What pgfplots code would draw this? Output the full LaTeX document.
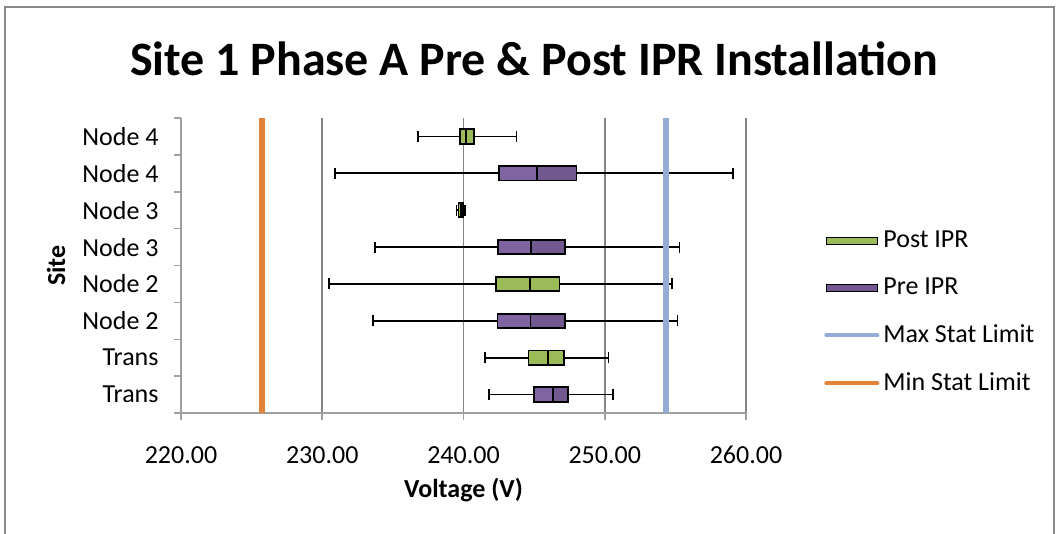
\documentclass[border=0pt]{standalone}
\usepackage{fontspec}
\setmainfont{Carlito}
\usepackage{pgfplots}
\pgfplotsset{compat=1.18}
\usepgfplotslibrary{statistics}
\definecolor{postgreen}{RGB}{155,187,89}
\definecolor{prelight}{RGB}{128,100,162}
\definecolor{predark}{RGB}{113,88,143}
\definecolor{maxblue}{RGB}{146,172,214}
\definecolor{minorange}{RGB}{226,131,58}
\definecolor{gridgray}{RGB}{134,134,134}
\definecolor{axisgray}{RGB}{160,160,160}
\definecolor{framegray}{RGB}{136,136,136}
\begin{document}
\begin{tikzpicture}
\useasboundingbox (-90.5pt,-60.5pt) rectangle (438.5pt,206.5pt);
\draw[framegray, line width=0.75pt] (-88pt,-70pt) -- (-88pt,203pt) -- (436.5pt,203pt) -- (436.5pt,-70pt);
\begin{axis}[
  at={(0pt,0pt)}, anchor=south west,
  scale only axis, width=282.5pt, height=147.5pt,
  xmin=220, xmax=260, ymin=0.5, ymax=8.5,
  axis x line*=bottom, axis y line*=left,
  axis line style={axisgray, line width=0.75pt, -},
  xtick={220,230,240,250,260},
  xticklabel style={/pgf/number format/fixed, /pgf/number format/fixed zerofill, /pgf/number format/precision=2, /pgf/number format/assume math mode=true, yshift=-9.6pt},
  xmajorgrids=true,
  grid style={gridgray, line width=0.75pt},
  ytick={0.5,1.5,...,8.5}, yticklabels={},
  extra y ticks={1,2,3,4,5,6,7,8},
  extra y tick labels={Trans,Trans,Node 2,Node 2,Node 3,Node 3,Node 4,Node 4},
  extra y tick style={major tick length=0pt},
  tick align=outside, major tick length=3.5pt,
  tick style={axisgray, line width=0.75pt},
  tick label style={font=\fontsize{13}{15.6}\selectfont, text=black},
  yticklabel style={xshift=-7.7pt},
  xlabel={Voltage (V)}, ylabel={Site},
  xlabel style={at={(axis description cs:0.5,0)}, anchor=base, yshift=-42pt, font=\bfseries\fontsize{13}{15.6}\selectfont},
  ylabel style={at={(axis description cs:-0.2053,0.5)}, anchor=base, font=\bfseries\fontsize{13}{15.6}\selectfont},
  title={Site 1 Phase A Pre \& Post IPR Installation},
  title style={at={(axis description cs:0.6248,1.105)}, anchor=base, font=\bfseries\fontsize{24}{28.8}\selectfont},
  boxplot/draw direction=x,
  boxplot/box extend=0.39,
  boxplot/whisker extend=0.3,
  boxplot/every box/.style={line width=0.9pt},
  boxplot/every whisker/.style={line width=0.85pt},
  boxplot/every median/.style={line width=0.9pt},
  legend style={at={(axis description cs:1.138,0.3407)}, anchor=west, draw=none, fill=none, inner sep=0pt,
    row sep=9.6pt, font=\fontsize{13}{15.6}\selectfont, cells={anchor=west}},
  legend cell align=left,
]
\addlegendimage{legend image code/.code={\draw[fill=postgreen,draw=black,line width=0.6pt] (0pt,-1.75pt) rectangle (25.5pt,1.75pt);}}
\addlegendentry{Post IPR}
\addlegendimage{legend image code/.code={\draw[fill=predark,draw=black,line width=0.6pt] (0pt,-1.75pt) rectangle (25.5pt,1.75pt);}}
\addlegendentry{Pre IPR}
\addlegendimage{legend image code/.code={\draw[maxblue,line width=2pt,line cap=round] (0pt,0pt) -- (25.5pt,0pt);}}
\addlegendentry{Max Stat Limit}
\addlegendimage{legend image code/.code={\draw[minorange,line width=2pt,line cap=round] (0pt,0pt) -- (25.5pt,0pt);}}
\addlegendentry{Min Stat Limit}

% Trans Pre (1)
\addplot[forget plot, draw=black, fill=predark, boxplot prepared={draw position=1, lower whisker=241.8, lower quartile=245.0, median=246.35, upper quartile=247.4, upper whisker=250.57}] coordinates {};
\addplot[forget plot, draw=black, fill=prelight, boxplot/whisker extend=0, boxplot prepared={draw position=1, lower whisker=245.0, lower quartile=245.0, median=246.35, upper quartile=246.35, upper whisker=246.35}] coordinates {};
% Trans Post (2)
\addplot[forget plot, draw=black, fill=postgreen, boxplot prepared={draw position=2, lower whisker=241.5, lower quartile=244.6, median=246.0, upper quartile=247.1, upper whisker=250.27}] coordinates {};
% Node 2 Pre (3)
\addplot[forget plot, draw=black, fill=predark, boxplot prepared={draw position=3, lower whisker=233.6, lower quartile=242.4, median=244.75, upper quartile=247.2, upper whisker=255.15}] coordinates {};
\addplot[forget plot, draw=black, fill=prelight, boxplot/whisker extend=0, boxplot prepared={draw position=3, lower whisker=242.4, lower quartile=242.4, median=244.75, upper quartile=244.75, upper whisker=244.75}] coordinates {};
% Node 2 Post (4)
\addplot[forget plot, draw=black, fill=postgreen, boxplot prepared={draw position=4, lower whisker=230.5, lower quartile=242.3, median=244.7, upper quartile=246.8, upper whisker=254.75}] coordinates {};
% Node 3 Pre (5)
\addplot[forget plot, draw=black, fill=predark, boxplot prepared={draw position=5, lower whisker=233.75, lower quartile=242.46, median=244.8, upper quartile=247.2, upper whisker=255.3}] coordinates {};
\addplot[forget plot, draw=black, fill=prelight, boxplot/whisker extend=0, boxplot prepared={draw position=5, lower whisker=242.46, lower quartile=242.46, median=244.8, upper quartile=244.8, upper whisker=244.8}] coordinates {};
% Node 3 Post (6)
\addplot[forget plot, draw=black, fill=postgreen, boxplot prepared={draw position=6, lower whisker=239.5, lower quartile=239.65, median=239.8, upper quartile=239.98, upper whisker=240.1}] coordinates {};
% Node 4 Pre (7)
\addplot[forget plot, draw=black, fill=predark, boxplot prepared={draw position=7, lower whisker=230.9, lower quartile=242.5, median=245.2, upper quartile=248.0, upper whisker=259.1}] coordinates {};
\addplot[forget plot, draw=black, fill=prelight, boxplot/whisker extend=0, boxplot prepared={draw position=7, lower whisker=242.5, lower quartile=242.5, median=245.2, upper quartile=245.2, upper whisker=245.2}] coordinates {};
% Node 4 Post (8)
\addplot[forget plot, draw=black, fill=postgreen, boxplot prepared={draw position=8, lower whisker=236.8, lower quartile=239.77, median=240.15, upper quartile=240.76, upper whisker=243.76}] coordinates {};

% Stat limits
\addplot[forget plot, maxblue, line width=3pt] coordinates {(254.35,0.5) (254.35,8.5)};
\addplot[forget plot, minorange, line width=3pt] coordinates {(225.7,0.5) (225.7,8.5)};
\end{axis}
\end{tikzpicture}
\end{document}
